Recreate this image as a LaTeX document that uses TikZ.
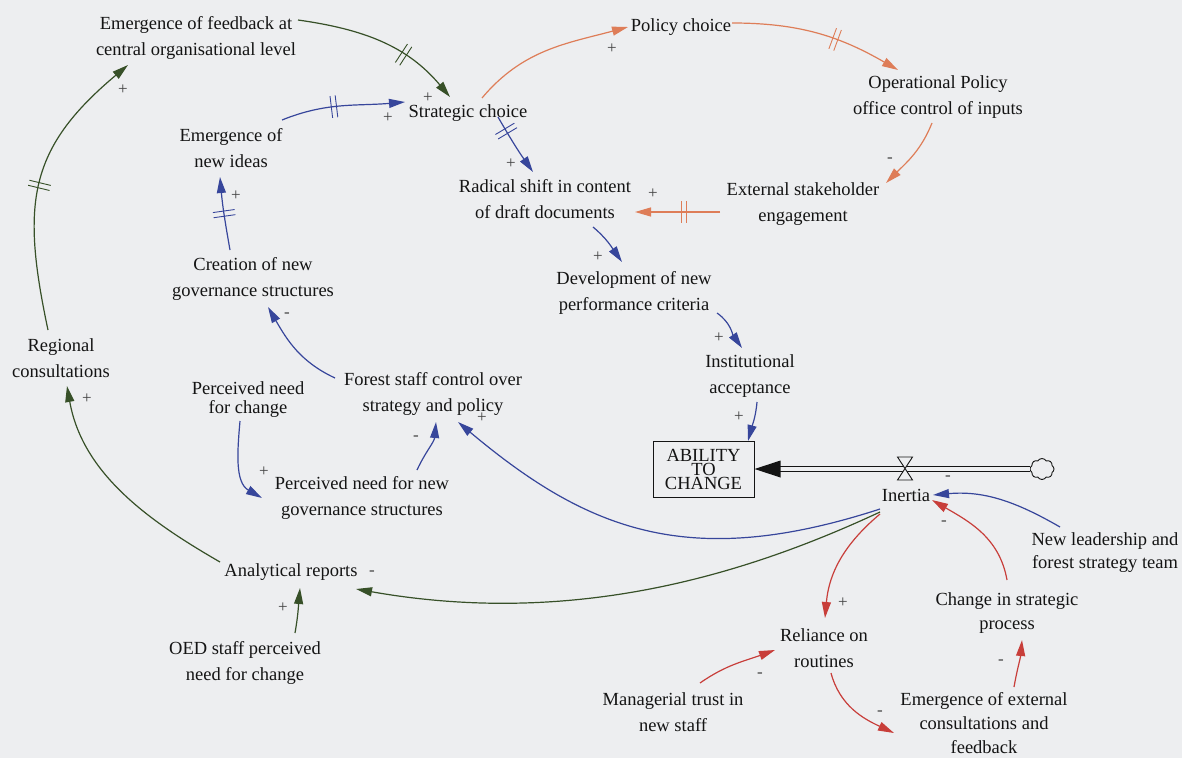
\documentclass[tikz,border=0pt]{standalone}
\usepackage{fontspec}
\setmainfont{Liberation Serif}
\usetikzlibrary{arrows.meta,decorations.markings,shapes.symbols}

\definecolor{bg}{RGB}{237,238,240}
\definecolor{ink}{RGB}{20,20,20}
\definecolor{cgreen}{RGB}{55,80,40}
\definecolor{cblue}{RGB}{55,70,155}
\definecolor{corange}{RGB}{222,125,88}
\definecolor{cred}{RGB}{200,62,58}

\tikzset{
  lbl/.style={inner sep=0pt, align=center, text=ink, font=\fontsize{18.5}{26.5}\selectfont},
  lbltight/.style={lbl, font=\fontsize{18.5}{#1}\selectfont},
  sgn/.style={inner sep=0pt, text=ink!80, font=\fontsize{17}{17}\selectfont},
  link/.style={line width=1.2pt, -{Triangle[length=16pt,width=9pt]}},
  glink/.style={link, color=cgreen},
  blink/.style={link, color=cblue},
  olink/.style={link, color=corange},
  rlink/.style={link, color=cred},
  delaymark/.style={postaction={decorate, decoration={markings,
      mark=at position #1 with {\draw[line width=0.9pt,-] (-2.6pt,-11pt) -- (-2.6pt,11pt) (2.6pt,-11pt) -- (2.6pt,11pt);}}}},
}

\begin{document}
\begin{tikzpicture}[x=1pt,y=1pt]
  \fill[bg] (0,0) rectangle (1182,-758);
  \useasboundingbox (0,0) rectangle (1182,-758);

  % variables
  \node[lbl] (EF)  at (196,-38)  {Emergence of feedback at\\central organisational level};
  \node[lbl] (SC)  at (468,-113) {Strategic choice};
  \node[lbl] (PC)  at (681,-27)  {Policy choice};
  \node[lbl] (OP)  at (938,-97)  {Operational Policy\\office control of inputs};
  \node[lbl] (EI)  at (231,-148) {Emergence of\\new ideas};
  \node[lbl] (RS)  at (545,-199) {Radical shift in content\\of draft documents};
  \node[lbl] (ES)  at (803,-204) {External stakeholder\\engagement};
  \node[lbl] (DV)  at (634,-293) {Development of new\\performance criteria};
  \node[lbl] (CR)  at (253,-279) {Creation of new\\governance structures};
  \node[lbl] (IA)  at (750,-376) {Institutional\\acceptance};
  \node[lbl] (RG)  at (61,-358)  {Regional\\consultations};
  \node[lbltight=19] (PN) at (248,-400) {Perceived need\\for change};
  \node[lbl] (FS)  at (433,-394) {Forest staff control over\\strategy and policy};
  \node[lbl] (PG)  at (362,-498) {Perceived need for new\\governance structures};
  \node[lbl] (AR)  at (291,-572) {Analytical reports};
  \node[lbl] (OED) at (245,-663) {OED staff perceived\\need for change};
  \node[lbl] (INE) at (906,-495) {Inertia};
  \node[lbltight=23] (NL) at (1105,-553) {New leadership and\\forest strategy team};
  \node[lbltight=24] (CH) at (1007,-613) {Change in strategic\\process};
  \node[lbl] (RR)  at (824,-648) {Reliance on\\routines};
  \node[lbl] (MT)  at (673,-712) {Managerial trust in\\new staff};
  \node[lbltight=24] (EX) at (984,-723) {Emergence of external\\consultations and\\feedback};

  % stock, flow pipe, valve and source cloud
  \node[draw=ink, line width=1pt, minimum width=101pt, minimum height=56pt, inner sep=0pt,
        lbltight=14] (BOX) at (703.5,-469) {ABILITY\\TO\\CHANGE};
  \node[cloud, draw=ink, fill=bg, cloud puffs=8, cloud puff arc=120, aspect=1.2,
        minimum width=24pt, minimum height=21pt, inner sep=0pt, line width=0.9pt] (CLOUD) at (1042,-469) {};
  \draw[ink, line width=1.1pt, double=bg, double distance=3.2pt]
    (CLOUD.west) -- ([xshift=24pt]BOX.east);
  \fill[ink] (BOX.east) -- ++(26,8.5) -- ++(0,-17) -- cycle;
  \coordinate (VALVE) at (905,-468.5);
  \filldraw[fill=bg, draw=ink, line width=0.9pt]
    ([shift={(-7.5,11.5)}]VALVE) -- ([shift={(7.5,11.5)}]VALVE) -- (VALVE) -- cycle
    ([shift={(-7.5,-11.5)}]VALVE) -- ([shift={(7.5,-11.5)}]VALVE) -- (VALVE) -- cycle;

  % causal links
  \draw[glink, delaymark=0.64] ([shift={(102,18)}]EF.center) to[out=-8,in=130] ([shift={(-18,16)}]SC.center);
  \draw[blink, delaymark=0.43] ([shift={(51,28)}]EI.center) to[out=22,in=185] ([shift={(-63,11)}]SC.center);
  \draw[olink] ([shift={(14,15)}]SC.center) to[out=50,in=195] ([shift={(-53,0)}]PC.center);
  \draw[olink, delaymark=0.6] ([shift={(51,4)}]PC.center) to[out=0,in=150] ([shift={(-40,27)}]OP.center);
  \draw[olink] ([shift={(-6,-26)}]OP.center) to[out=-112,in=45] ([shift={(83,21)}]ES.center);
  \draw[olink, delaymark=0.42] ([shift={(-83,-8)}]ES.center) -- ([shift={(90,-13)}]RS.center);
  \draw[blink, delaymark=0.25] ([shift={(30,-4)}]SC.center) to[out=-60,in=125] ([shift={(-12,27)}]RS.center);
  \draw[blink] ([shift={(48,-28)}]RS.center) to[out=-40,in=125] ([shift={(-12,31)}]DV.center);
  \draw[blink] ([shift={(83,-20)}]DV.center) to[out=-35,in=125] ([shift={(-8,28)}]IA.center);
  \draw[blink] ([shift={(7,-26)}]IA.center) to[out=-95,in=75] ([shift={(44.5,28)}]BOX.center);
  \draw[blink] ([shift={(-26,-14)}]INE.center) .. controls +(198:200) and +(-40:170) .. ([shift={(25,-28)}]FS.center);
  \draw[blink] ([shift={(55,28)}]PG.center) to[out=65,in=-95] ([shift={(3,-28)}]FS.center);
  \draw[blink] ([shift={(-8,-21)}]PN.center) to[out=-95,in=150] ([shift={(-100,0)}]PG.center);
  \draw[blink] ([shift={(-98,16)}]FS.center) to[out=155,in=-60] ([shift={(15,-28)}]CR.center);
  \draw[blink, delaymark=0.5] ([shift={(-23,29)}]CR.center) to[out=100,in=-85] ([shift={(-11,-29)}]EI.center);
  \draw[glink, delaymark=0.49] ([shift={(-13,28)}]RG.center) .. controls +(102:130) and +(220:130) .. ([shift={(-68,-27)}]EF.center);
  \draw[glink] ([shift={(-71,10)}]AR.center) .. controls +(150:80) and +(-80:90) .. ([shift={(6,-28)}]RG.center);
  \draw[glink] ([shift={(50,30)}]OED.center) to[out=80,in=-95] ([shift={(9,-16)}]AR.center);
  \draw[glink] ([shift={(-26,-17)}]INE.center) .. controls +(205:150) and +(-10:220) .. ([shift={(65,-17)}]AR.center);
  \draw[rlink] ([shift={(-26,-19)}]INE.center) to[out=220,in=85] ([shift={(1,30)}]RR.center);
  \draw[rlink] ([shift={(0,33)}]CH.center) to[out=100,in=-30] ([shift={(26,-5)}]INE.center);
  \draw[blink] ([shift={(-45,26)}]NL.center) to[out=150,in=5] ([shift={(27,0)}]INE.center);
  \draw[rlink] ([shift={(27,29)}]MT.center) to[out=35,in=200] ([shift={(-49,-2)}]RR.center);
  \draw[rlink] ([shift={(7,-25)}]RR.center) to[out=-75,in=155] ([shift={(-90,-10)}]EX.center);
  \draw[rlink] ([shift={(30,36)}]EX.center) to[out=80,in=-95] ([shift={(15,-27)}]CH.center);

  % link polarities
  \node[sgn] (p1)  at (428,-98)  {+};
  \node[sgn] (p2)  at (388,-118) {+};
  \node[sgn] (p3)  at (612,-49)  {+};
  \node[sgn] (p4)  at (890,-160) {-};
  \node[sgn] (p5)  at (653,-194) {+};
  \node[sgn] (p6)  at (511,-164) {+};
  \node[sgn] (p7)  at (598,-257) {+};
  \node[sgn] (p8)  at (719,-338) {+};
  \node[sgn] (p9)  at (739,-417) {+};
  \node[sgn] (p10) at (482,-418) {+};
  \node[sgn] (p11) at (416,-438) {-};
  \node[sgn] (p12) at (264,-472) {+};
  \node[sgn] (p13) at (287,-315) {-};
  \node[sgn] (p14) at (236,-196) {+};
  \node[sgn] (p15) at (123,-90)  {+};
  \node[sgn] (p16) at (87,-399)  {+};
  \node[sgn] (p17) at (283,-608) {+};
  \node[sgn] (p18) at (372,-573) {-};
  \node[sgn] (p19) at (843,-603) {+};
  \node[sgn] (p20) at (944,-523) {-};
  \node[sgn] (p21) at (948,-478) {-};
  \node[sgn] (p22) at (760,-675) {-};
  \node[sgn] (p23) at (880,-713) {-};
  \node[sgn] (p24) at (1001,-662) {-};
\end{tikzpicture}
\end{document}
